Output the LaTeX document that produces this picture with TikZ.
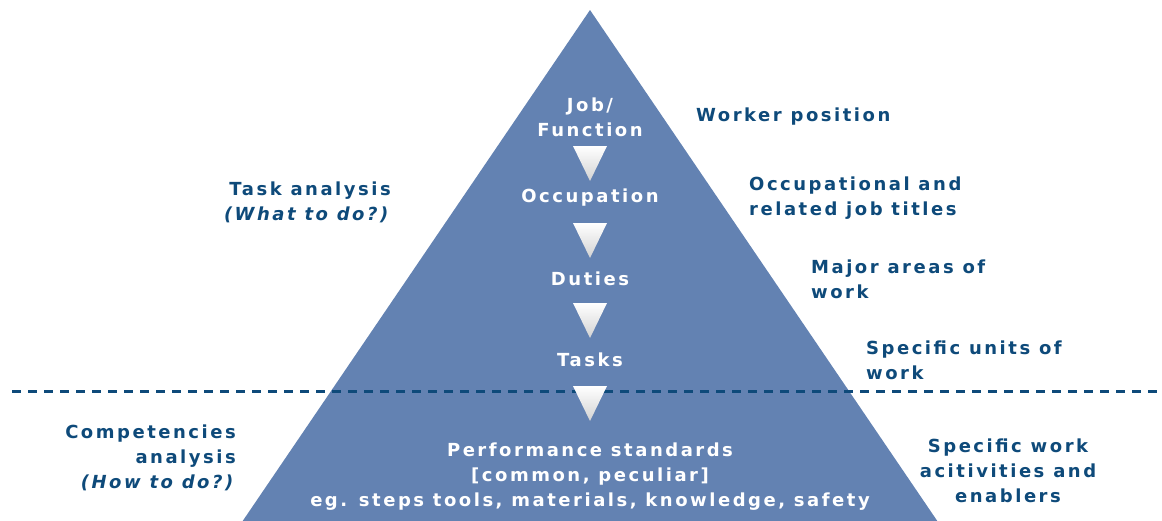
\documentclass[tikz,border=0pt]{standalone}
\usepackage{fontspec}
\setmainfont{DejaVu Sans}[LetterSpace=14]
\definecolor{pyr}{RGB}{99,130,178}
\definecolor{ink}{RGB}{14,74,122}
\tikzset{
  x=1pt, y=-1pt,
  lab/.style={font=\fontsize{18}{25}\selectfont\bfseries, text=ink, inner sep=0pt, align=left, anchor=west},
  labr/.style={lab, align=right, anchor=east},
  labc/.style={lab, align=center, anchor=center},
  inlab/.style={font=\fontsize{18}{25}\selectfont\bfseries, text=white, inner sep=0pt, align=center},
  darrow/.style={left color=white, right color=gray!35, shading angle=0},
  divider/.style={draw=ink, line width=3pt, dash pattern=on 9pt off 7pt}
}
\begin{document}
\begin{tikzpicture}
\useasboundingbox (0,0) rectangle (1162,520);
% pyramid
\fill[pyr] (590,10) -- (938,522) -- (242,522) -- cycle;
% divider
\coordinate (dl) at (12,391);
\coordinate (dr) at (1162,391);
\draw[divider] (dl) -- (dr);
% level labels inside
\node[inlab] (job) at (590,117) {Job/\\Function};
\node[inlab] (occ) at (590,198) {Occupation};
\node[inlab] (dut) at (590,279) {Duties};
\node[inlab] (tas) at (590,360) {Tasks};
\node[inlab] (per) at (590,477) {Performance standards\\{}[common, peculiar]\\eg. steps tools, materials, knowledge, safety};
% arrows between levels
\foreach \t in {146,223,303,386}{
  \shade[darrow] (573,\t) -- (607,\t) -- (590,\t+35) -- cycle;
}
% right descriptions
\node[lab] (wp) at (696,117) {Worker position};
\node[lab] (oj) at (749,198) {Occupational and\\related job titles};
\node[lab] (ma) at (811,279) {Major areas of\\work};
\node[lab] (su) at (866,360) {Specific units of\\work};
\node[labc] (sw) at (1008,471) {Specific work\\acitivities and\\enablers};
% left descriptions
\node[labr] (ta) at (391,202) {Task analysis\\\textit{(What to do?)}};
\node[labr] (ca) at (236,458) {Competencies\\analysis\\\textit{(How to do?)}};
\end{tikzpicture}
\end{document}
